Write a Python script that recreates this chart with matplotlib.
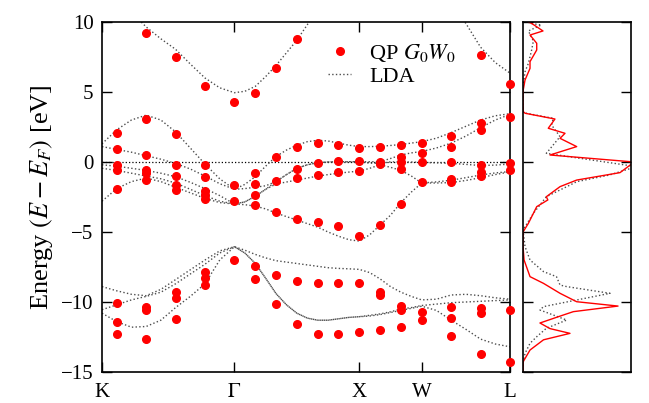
import numpy as np
import matplotlib
matplotlib.use("Agg")
import matplotlib.pyplot as plt

plt.rcParams['font.family'] = ['Liberation Serif', 'DejaVu Serif']
plt.rcParams['mathtext.fontset'] = 'stix'

# path K - Gamma - X - W - L (units of 2pi/a)
kK = 0.0
kG = 0.75 * np.sqrt(2)
kX = kG + 1.0
kW = kX + 0.5
kL = kW + np.sqrt(2) / 2
sym_k = [kK, kG, kX, kW, kL]
sym_labels = ['K', r'$\Gamma$', 'X', 'W', 'L']

# LDA sampling grid (10 + 12 + 6 + 6 points)
k_lda = np.concatenate([np.linspace(kK, kG, 10),
                        np.linspace(kG, kX, 13)[1:],
                        np.linspace(kX, kW, 7)[1:],
                        np.linspace(kW, kL, 7)[1:]])

nan = np.nan
lda_top = [12.7, 11.7, 10.7, 9.65, 8.8, 8.05, 7.0, 6.0, 5.3, 4.95,
           5.05, 5.4, 6.1, 6.9, 7.8, 8.7, 9.8, 10.9, 12.0, nan, nan, nan,
           nan, nan, nan, nan, nan, nan,
           nan, 11.2, 9.9, 8.2, 7.1, 6.35]
lda_d1 = [1.3, 2.3, 3.0, 3.35, 3.0, 2.15, 1.0, -0.15, -1.2, -1.95,
          -1.6, -1.05, -0.3, 0.4, 0.85, 1.2, 1.45, 1.55, 1.5, 1.35, 1.2, 1.1,
          1.1, 1.12, 1.18, 1.25, 1.35, 1.45,
          1.7, 2.1, 2.55, 3.0, 3.3, 3.45]
lda_d2 = [1.1, 0.9, 0.7, 0.45, 0.2, -0.1, -0.5, -1.0, -1.55, -1.95,
          -1.9, -1.8, -1.7, -1.4, -0.9, -0.45, -0.2, -0.05, 0.0, 0.02, 0.02, 0.02,
          0.02, 0.02, 0.25, 0.5, 0.65, 0.75,
          1.0, 1.35, 1.85, 2.45, 3.0, 3.4]
lda_d3 = [-0.2, -0.3, -0.45, -0.6, -0.8, -1.05, -1.45, -1.9, -2.4, -3.0,
          -2.85, -2.45, -1.95, -1.4, -0.9, -0.45, -0.2, -0.05, 0.0, 0.02, 0.02, 0.02,
          -0.08, -0.1, 0.01, 0.0, 0.0, -0.03,
          -0.06, -0.1, -0.17, -0.25, -0.22, -0.15]
lda_d4 = [-0.45, -0.6, -0.8, -1.0, -1.2, -1.5, -1.95, -2.4, -2.8, -3.0,
          -2.85, -2.45, -1.95, -1.57, -1.43, -1.29, -1.15, -1.0, -0.9, -0.8, -0.72, -0.65,
          -0.45, -0.2, -0.38, -0.6, -1.0, -1.5,
          -1.42, -1.3, -1.12, -0.93, -0.78, -0.68]
lda_d5 = [-2.8, -1.9, -1.4, -1.15, -1.4, -1.8, -2.2, -2.6, -2.9, -3.0,
          -3.05, -3.15, -3.35, -3.65, -3.9, -4.15, -4.4, -4.65, -5.0, -5.3, -5.55, -5.65,
          -5.2, -4.5, -3.8, -2.9, -2.15, -1.5,
          -1.5, -1.47, -1.32, -1.12, -0.9, -0.7]
lda_p1 = [-8.9, -9.2, -9.45, -9.55, -9.1, -8.4, -7.7, -7.0, -6.35, -6.05,
          -6.3, -6.6, -6.85, -7.05, -7.15, -7.25, -7.35, -7.45, -7.55, -7.6, -7.63, -7.67,
          -7.9, -8.35, -8.9, -9.3, -9.6, -9.85,
          -9.8, -9.5, -9.45, -9.55, -9.7, -9.8]
lda_p2 = [-10.55, -10.2, -9.85, -9.6, -9.3, -8.7, -8.0, -7.3, -6.5, -6.05,
          -6.5, -7.24, -8.3, -9.4, -10.2, -10.8, -11.15, -11.3, -11.3, -11.2, -11.1, -11.05,
          -10.95, -10.85, -10.7, -10.5, -10.4, -10.25,
          -10.15, -10.05, -10.0, -9.95, -9.9, -9.85]
lda_p3 = [-10.8, -11.4, -11.8, -11.75, -11.3, -10.4, -9.6, -8.7, -7.0, -6.05,
          -6.5, -7.24, -8.3, -9.4, -10.2, -10.8, -11.15, -11.3, -11.3, -11.2, -11.1, -11.05,
          -11.0, -10.9, -10.75, -10.6, -10.45, -10.3,
          -10.6, -11.3, -11.95, -12.65, -13.0, -13.2]
lda_bands = [lda_top, lda_d1, lda_d2, lda_d3, lda_d4, lda_d5, lda_p1, lda_p2, lda_p3]

# QP G0W0 k-points and energies
k_qp = np.concatenate([kG * np.array([1, 3, 5, 7, 9]) / 9,
                       kG + np.arange(1, 7) / 6,
                       kX + np.arange(1, 4) / 6,
                       kW + np.arange(1, 4) * (kL - kW) / 3])
qp_energies = [
    [2.1, 0.9, -0.2, -0.6, -1.9, -10.1, -11.45, -12.3],
    [9.2, 3.1, 0.5, -0.55, -0.8, -1.3, -10.33, -10.57, -12.67],
    [7.5, 2.0, -0.2, -1.0, -1.64, -2.0, -9.3, -9.7, -11.24],
    [5.4, -0.24, -1.1, -2.05, -2.36, -2.64, -7.83, -8.26, -8.81],
    [4.3, -1.64, -2.8, -7.0],
    [4.9, -0.79, -1.57, -2.36, -3.07, -7.4, -8.33],
    [6.7, 0.36, -1.36, -3.6, -8.07, -10.17],
    [8.8, 1.1, -0.5, -1.14, -4.1, -8.48, -11.6],
    [1.36, -0.07, -0.9, -4.3, -8.67, -12.26],
    [1.2, 0.05, -0.71, -4.6, -8.67, -12.26],
    [1.0, 0.05, -0.64, -5.26, -8.67, -12.12],
    [1.1, 0.0, -0.17, -4.48, -9.26, -9.5, -12.02],
    [1.2, 0.38, 0.0, -0.5, -3.0, -10.29, -10.57, -11.76],
    [1.33, 0.62, 0.0, -1.45, -10.71, -11.29],
    [1.86, 1.1, -0.02, -1.24, -1.4, -10.33, -11.12, -12.43],
    [7.66, 2.76, 2.29, -0.21, -0.69, -1.0, -10.45, -10.76, -13.74],
    [5.6, 3.19, -0.1, -0.57, -10.57, -14.3],
]

# density of states (arbitrary units)
dos_qp_e = [10.0, 9.9, 9.36, 9.07, 8.48, 8.0, 7.17, 6.69, 5.86, 5.14, 4.5, 3.6, 3.48,
            3.07, 2.41, 2.05, 1.69, 1.1, 0.5, 0.0, -0.76, -1.29, -1.76, -2.48, -2.71,
            -3.19, -3.67, -4.38, -4.98, -6.0, -7.0, -8.19, -8.67, -9.38, -9.98, -10.29,
            -10.69, -10.93, -11.5, -11.9, -12.24, -12.7, -13.43, -14.26, -15.0]
dos_qp = [0.05, 0.08, 0.185, 0.065, 0.127, 0.127, 0.065, 0.065, 0.019, 0.002, 0.0, 0.002, 0.02,
          0.296, 0.234, 0.389, 0.343, 0.497, 0.25, 1.03, 0.898, 0.497, 0.343, 0.216, 0.23,
          0.127, 0.096, 0.05, 0.002, 0.0, 0.01, 0.065, 0.19, 0.343, 0.497, 0.88,
          0.466, 0.373, 0.157, 0.25, 0.435, 0.19, 0.065, 0.002, 0.0]
dos_lda_e = [10.0, 9.9, 9.79, 9.36, 8.64, 8.0, 7.05, 6.45, 5.38, 4.5, 3.6, 3.48, 3.12,
             2.64, 1.81, 0.62, -0.33, -0.93, -1.4, -2.48, -3.67, -4.86, -6.05, -7.0,
             -7.83, -8.19, -8.79, -8.9, -9.38, -10.33, -10.57, -11.29, -11.88, -12.48,
             -12.95, -13.67, -14.38, -15.0]
dos_lda = [0.05, 0.065, 0.17, 0.05, 0.096, 0.08, 0.05, 0.019, 0.0, 0.0, 0.0, 0.03, 0.28,
           0.265, 0.343, 0.216, 1.05, 0.8, 0.5, 0.216, 0.096, 0.0, 0.019, 0.065,
           0.19, 0.31, 0.343, 0.404, 0.806, 0.19, 0.157, 0.404, 0.216, 0.127,
           0.065, 0.019, 0.0, 0.0]

fig = plt.figure(figsize=(6.49, 4.03), dpi=100)
ax = fig.add_axes([102 / 649, 1 - 372 / 403, 408 / 649, 350 / 403])
ax2 = fig.add_axes([523 / 649, 1 - 372 / 403, 108 / 649, 350 / 403])

ax.axhline(0, color='black', ls=':', lw=0.9)
for i, band in enumerate(lda_bands):
    ax.plot(k_lda, band, ls=':', color='0.3', lw=1.0,
            label='LDA' if i == 0 else None)
for j, (k, es) in enumerate(zip(k_qp, qp_energies)):
    ax.plot([k] * len(es), es, 'o', color='red', ms=5.5, mec='red', clip_on=False,
            zorder=5, label=r'QP $G_0W_0$' if j == 0 else None)

ax.set_xlim(kK, kL)
ax.set_ylim(-15, 10)
ax.set_xticks(sym_k)
ax.set_xticklabels(sym_labels)
ax.set_yticks(np.arange(-15, 11, 5))
ax.set_ylabel(r'Energy $(E - E_F)$ [eV]', fontsize=19, labelpad=4)
ax.tick_params(direction='in', length=7, width=1, top=True, right=True,
               labelsize=15, pad=6)
ax.tick_params(axis='x', pad=8, labelsize=15)
for s in ax.spines.values():
    s.set_linewidth(1.2)

h, l = ax.get_legend_handles_labels()
ax.legend(h[::-1], l[::-1], loc='upper left', bbox_to_anchor=(0.505, 1.0),
          frameon=False, fontsize=16, handlelength=1.05, handletextpad=0.8,
          labelspacing=0.12)

ax2.plot(dos_lda, dos_lda_e, ls=':', color='0.3', lw=1.0)
ax2.plot(dos_qp, dos_qp_e, '-', color='red', lw=1.0)
ax2.set_xlim(0, 1)
ax2.set_ylim(-15, 10)
ax2.set_xticks([])
ax2.set_yticks(np.arange(-15, 11, 5))
ax2.set_yticklabels([])
ax2.tick_params(direction='in', length=7, width=1, right=True)
for s in ax2.spines.values():
    s.set_linewidth(1.2)

fig.savefig('out.png', dpi=100)
